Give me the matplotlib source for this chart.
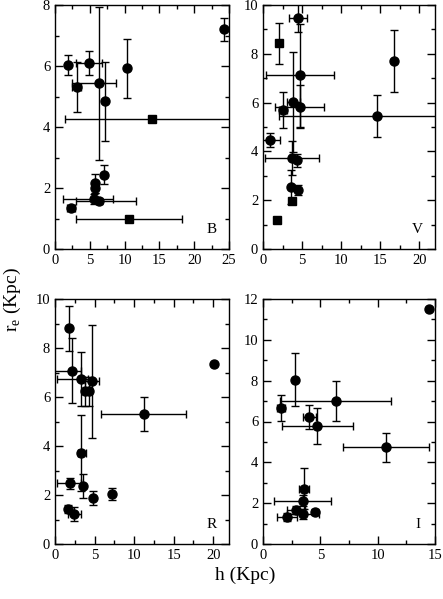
import numpy as np
import matplotlib
matplotlib.use("Agg")
import matplotlib.pyplot as plt
from matplotlib.ticker import MultipleLocator

plt.rcParams['font.family'] = ['Liberation Serif', 'DejaVu Serif']

# ---- band B ----
h_B = [1.9, 3.1, 4.9, 6.3, 7.2, 10.4, 24.3, 14.0, 7.0, 5.7, 5.75, 5.65, 6.3, 2.3, 10.7]
re_B = [6.03, 5.3, 6.09, 5.43, 4.84, 5.93, 7.2, 4.26, 2.44, 2.15, 1.99, 1.64, 1.56, 1.34, 0.97]
re_err_B = [0.33, 0.82, 0.4, 2.5, 1.3, 0.97, 0.38, 0.05, 0.3, 0.3, 0.15, 0.15, 0.1, 0.1, 0.05]
h_lo_B = [0, 0.7, 1.85, 3.8, 0, 0, 0, 12.5, 0, 0, 0, 4.45, 3.3, 0.6, 7.7]
h_hi_B = [0, 0.7, 1.85, 2.5, 0, 0, 0, 11.5, 0, 0, 0, 2.75, 5.3, 0.6, 7.6]
sq_B = [7, 14]

# ---- band V ----
h_V = [4.5, 2.1, 16.7, 4.7, 3.9, 2.6, 4.7, 14.6, 0.9, 3.7, 4.35, 3.55, 4.45, 3.65, 1.8]
re_V = [9.48, 8.43, 7.71, 7.12, 6.04, 5.7, 5.84, 5.46, 4.47, 3.74, 3.63, 2.55, 2.41, 1.96, 1.19]
re_err_V = [0.6, 0.84, 1.27, 2.1, 2.05, 0.73, 0.9, 0.87, 0.3, 0.7, 0.27, 0.7, 0.21, 0.08, 0.08]
h_lo_V = [1.15, 0, 0, 4.35, 0.8, 0.5, 3.2, 12.5, 1.0, 3.5, 0, 0, 0, 0, 0]
h_hi_V = [1.15, 0, 0, 4.4, 0.8, 0.5, 3.1, 9.0, 1.3, 3.4, 0, 0, 0, 0, 0]
sq_V = [1, 13, 14]

# ---- band R ----
h_R = [1.8, 2.2, 3.35, 3.85, 4.25, 4.65, 11.2, 20.1, 3.35, 1.9, 3.6, 4.8, 7.25, 1.65, 2.45]
re_R = [8.8, 7.07, 6.75, 6.23, 6.23, 6.64, 5.32, 7.33, 3.72, 2.48, 2.37, 1.88, 2.05, 1.43, 1.23]
re_err_R = [0.93, 1.33, 1.1, 0.6, 0.6, 2.3, 0.7, 0, 1.55, 0.22, 0.49, 0.28, 0.24, 0.15, 0.3]
h_lo_R = [0, 2.5, 3.1, 0, 0, 0.85, 5.4, 0, 0.5, 1.6, 0, 0, 0, 0.3, 0.8]
h_hi_R = [0, 1.1, 0.8, 0, 0, 0.85, 5.3, 0, 0.6, 1.4, 0, 0, 0, 0.3, 0.8]
sq_R = []

# ---- band I ----
h_I = [14.5, 2.75, 6.35, 1.6, 4.05, 4.75, 10.7, 3.6, 3.5, 2.9, 3.45, 4.55, 2.1]
re_I = [11.49, 8.05, 7.0, 6.66, 6.22, 5.79, 4.73, 2.7, 2.13, 1.67, 1.47, 1.55, 1.31]
re_err_I = [0, 1.3, 0.97, 0.65, 0.6, 0.88, 0.7, 1.0, 0.25, 0.2, 0.25, 0.15, 0.2]
h_lo_I = [0, 0, 4.9, 0.35, 0.55, 3.1, 3.7, 0.45, 2.5, 0.8, 1.4, 0, 0.85]
h_hi_I = [0, 0, 4.85, 0.35, 0.55, 3.1, 3.75, 0.45, 2.45, 0.8, 1.4, 0, 0.85]
sq_I = []

panels = [
    ("B", h_B, re_B, re_err_B, h_lo_B, h_hi_B, sq_B, 25, 8),
    ("V", h_V, re_V, re_err_V, h_lo_V, h_hi_V, sq_V, 22, 10),
    ("R", h_R, re_R, re_err_R, h_lo_R, h_hi_R, sq_R, 22, 10),
    ("I", h_I, re_I, re_err_I, h_lo_I, h_hi_I, sq_I, 15, 12),
]

W, H = 443, 599
fig = plt.figure(figsize=(W / 100, H / 100), dpi=100)

# axes boxes in pixels: left, top, right, bottom
boxes = [(55, 5, 229, 249), (263, 5, 435, 249), (55, 299, 229, 544), (263, 299, 435, 544)]

for (name, h, re, re_err, h_lo, h_hi, sq, xmax, ymax), (l, t, r, b) in zip(panels, boxes):
    ax = fig.add_axes([l / W, 1 - b / H, (r - l) / W, (b - t) / H])
    h = np.array(h); re = np.array(re)
    re_err = np.array(re_err); h_lo = np.array(h_lo); h_hi = np.array(h_hi)
    for i in range(len(h)):
        m = 's' if i in sq else 'o'
        ax.errorbar(h[i], re[i], yerr=re_err[i], xerr=[[h_lo[i]], [h_hi[i]]],
                    fmt=m, color='black', ms=6.5 if m == 'o' else 5.5,
                    elinewidth=1, capsize=3, capthick=1, clip_on=True)
    ax.set_xlim(0, xmax)
    ax.set_ylim(0, ymax)
    ax.xaxis.set_major_locator(MultipleLocator(5))
    ax.xaxis.set_minor_locator(MultipleLocator(2.5))
    ax.yaxis.set_major_locator(MultipleLocator(2))
    ax.yaxis.set_minor_locator(MultipleLocator(1))
    ax.tick_params(which='both', direction='in', top=True, right=True, labelsize=10.5, width=1)
    ax.tick_params(which='major', length=6)
    ax.tick_params(which='minor', length=3)
    for s in ax.spines.values():
        s.set_linewidth(1)
    ax.text(0.9, 0.08, name, transform=ax.transAxes, fontsize=11, ha='center', va='center')

fig.text(12 / W, 1 - 300 / H, r'r$_\mathregular{e}$ (Kpc)', rotation=90, fontsize=14,
         ha='center', va='center')
fig.text(245 / W, 1 - 575 / H, 'h (Kpc)', fontsize=14, ha='center', va='center')

fig.savefig("out.png", dpi=100)
